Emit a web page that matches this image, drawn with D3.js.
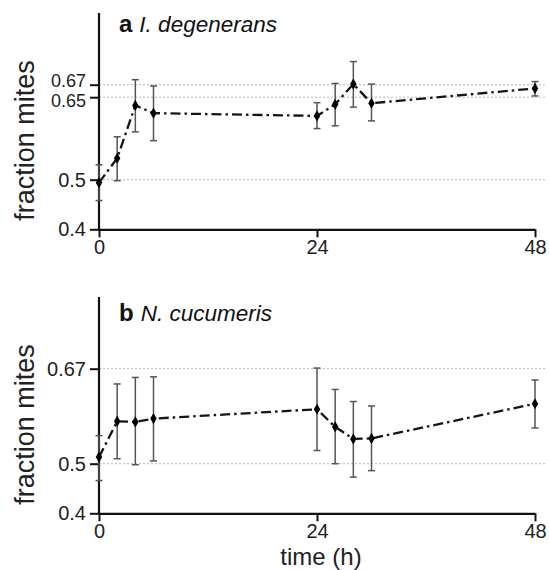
<!DOCTYPE html>
<html><head><meta charset="utf-8">
<script src="https://cdn.jsdelivr.net/npm/d3@7/dist/d3.min.js"></script>
<style>
body{margin:0;background:#fff;}
svg{display:block;font-family:"Liberation Sans",Arial,sans-serif;}
</style></head>
<body>
<svg id="chart" width="549" height="570"></svg>
<script>
// ---- data ----
const times = [0, 2, 4, 6, 24, 26, 28, 30, 48];
const xTicks = [0, 24, 48];

const aMean = [0.494, 0.539, 0.635, 0.621, 0.616, 0.637, 0.671, 0.639, 0.664];
const aLo   = [0.458, 0.498, 0.587, 0.571, 0.593, 0.598, 0.632, 0.607, 0.652];
const aHi   = [0.527, 0.578, 0.678, 0.668, 0.640, 0.672, 0.707, 0.671, 0.675];

const bMean = [0.512, 0.577, 0.576, 0.582, 0.599, 0.567, 0.545, 0.546, 0.609];
const bLo   = [0.466, 0.509, 0.498, 0.505, 0.524, 0.500, 0.473, 0.486, 0.565];
const bHi   = [0.551, 0.645, 0.656, 0.657, 0.671, 0.635, 0.613, 0.605, 0.652];

const aTicks = [0.4, 0.5, 0.65, 0.67];
const bTicks = [0.4, 0.5, 0.67];
const aGrid = [0.5, 0.65, 0.67];
const bGrid = [0.5, 0.67];
const yBreaks = [0.4, 0.5, 0.65, 0.67];

const panels = [
  {letter: "a", name: "I. degenerans", mean: aMean, lo: aLo, hi: aHi, ticks: aTicks, grid: aGrid},
  {letter: "b", name: "N. cucumeris", mean: bMean, lo: bLo, hi: bHi, ticks: bTicks, grid: bGrid}
];

// ---- layout ----
const svg = d3.select("#chart");
const x = d3.scaleLinear().domain([0, 48]).range([99, 535]);
const panelOffset = 284;
const yRangeBase = [229.3, 179.7, 97.2, 84.7];
const axisTop = 13;
const gridRight = 545;
const labelNudge = {0.67: -4, 0.65: 4};

panels.forEach((p, i) => {
  const off = i * panelOffset;
  const y = d3.scaleLinear().domain(yBreaks).range(yRangeBase.map(v => v + off));
  const g = svg.append("g");
  const y0 = y(0.4);
  const crowded = p.ticks.includes(0.65);

  // gridlines
  g.selectAll(".grid").data(p.grid).enter().append("line")
    .attr("x1", x(0)).attr("x2", gridRight)
    .attr("y1", d => y(d)).attr("y2", d => y(d))
    .attr("stroke", "#b8b8b8").attr("stroke-width", 1)
    .attr("stroke-dasharray", "2,2");

  // y axis
  const yAxis = d3.axisLeft(y).tickValues(p.ticks).tickSize(9).tickSizeOuter(0)
    .tickPadding(4).tickFormat(d3.format("~g"));
  const ya = g.append("g").attr("transform", `translate(${x(0)},0)`).call(yAxis);
  ya.select(".domain").remove();
  ya.selectAll(".tick line").attr("stroke", "#111").attr("stroke-width", 2);
  ya.selectAll(".tick text")
    .attr("font-size", d => (crowded && labelNudge[d]) ? 18 : 20)
    .attr("fill", "#222")
    .attr("font-family", "'Liberation Sans',Arial,sans-serif")
    .attr("y", d => (crowded && labelNudge[d]) ? labelNudge[d] : 0);
  g.append("line").attr("x1", x(0)).attr("x2", x(0))
    .attr("y1", axisTop + off).attr("y2", y0 + 1)
    .attr("stroke", "#111").attr("stroke-width", 2.2);

  // x axis
  const xAxis = d3.axisBottom(x).tickValues(xTicks).tickSize(8).tickSizeOuter(0).tickPadding(3);
  const xa = g.append("g").attr("transform", `translate(0,${y0})`).call(xAxis);
  xa.select(".domain").attr("stroke", "#111").attr("stroke-width", 2.2);
  xa.selectAll(".tick line").attr("stroke", "#111").attr("stroke-width", 2);
  xa.selectAll(".tick text").attr("font-size", 20).attr("fill", "#222")
    .attr("font-family", "'Liberation Sans',Arial,sans-serif");

  // y label
  g.append("text")
    .attr("transform", `translate(34,${140.5 + off}) rotate(-90)`)
    .attr("text-anchor", "middle").attr("font-size", 27).attr("fill", "#222")
    .text("fraction mites");

  // panel label
  const t = g.append("text").attr("x", 119).attr("y", 32 + off + (i === 1 ? 5 : 0))
    .attr("font-size", 22.5).attr("fill", "#111");
  t.append("tspan").attr("font-weight", "bold").attr("font-size", 24).text(p.letter);
  t.append("tspan").attr("font-style", "italic").attr("dx", 7).text(p.name);

  const pts = times.map((tt, k) => ({t: tt, m: p.mean[k], lo: p.lo[k], hi: p.hi[k]}));

  // error bars
  const eb = g.selectAll(".eb").data(pts).enter().append("g").attr("stroke", "#555").attr("stroke-width", 1.5);
  eb.append("line").attr("x1", d => x(d.t)).attr("x2", d => x(d.t))
    .attr("y1", d => y(d.lo)).attr("y2", d => y(d.hi));
  eb.append("line").attr("x1", d => x(d.t) - 3.5).attr("x2", d => x(d.t) + 3.5)
    .attr("y1", d => y(d.lo)).attr("y2", d => y(d.lo));
  eb.append("line").attr("x1", d => x(d.t) - 3.5).attr("x2", d => x(d.t) + 3.5)
    .attr("y1", d => y(d.hi)).attr("y2", d => y(d.hi));

  // line
  const line = d3.line().x(d => x(d.t)).y(d => y(d.m));
  g.append("path").datum(pts).attr("d", line)
    .attr("fill", "none").attr("stroke", "#151515").attr("stroke-width", 2.3)
    .attr("stroke-dasharray", "10,4,2.5,4");

  // markers
  g.selectAll(".mk").data(pts).enter().append("path")
    .attr("d", d3.symbol().type(d3.symbolDiamond).size(36))
    .attr("transform", d => `translate(${x(d.t)},${y(d.m)})`)
    .attr("fill", "#000");
});

// x title
svg.append("text").attr("x", 321).attr("y", 565).attr("text-anchor", "middle")
  .attr("font-size", 24).attr("fill", "#222").text("time (h)");
</script>
</body></html>
